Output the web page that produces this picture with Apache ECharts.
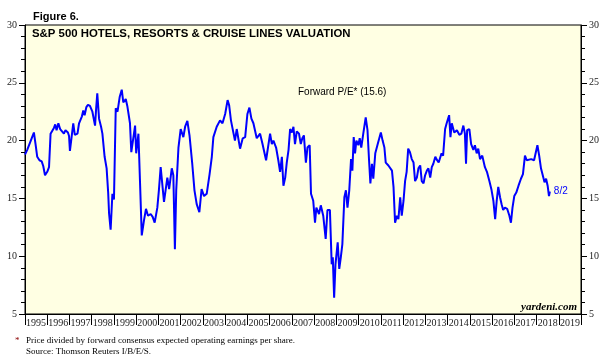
<!DOCTYPE html>
<html><head><meta charset="utf-8">
<script src="https://cdn.jsdelivr.net/npm/echarts@6/dist/echarts.min.js"></script>
<style>html,body{margin:0;padding:0;background:#fff}#c{width:610px;height:362px}</style>
</head><body><div id="c"></div>
<script>
const yearLabels = ['1995','1996','1997','1998','1999','2000','2001','2002','2003','2004','2005','2006','2007','2008','2009','2010','2011','2012','2013','2014','2015','2016','2017','2018','2019'];
const dates = [1995.00,1995.10,1995.20,1995.30,1995.40,1995.48,1995.55,1995.65,1995.75,1995.82,1995.90,1996.00,1996.08,1996.15,1996.22,1996.30,1996.36,1996.42,1996.50,1996.58,1996.66,1996.75,1996.82,1996.93,1996.98,
1997.02,1997.08,1997.17,1997.24,1997.30,1997.36,1997.43,1997.50,1997.56,1997.62,1997.68,1997.76,1997.83,1997.92,1998.03,1998.08,1998.15,1998.20,1998.25,1998.33,1998.42,1998.48,1998.58,1998.67,1998.74,1998.78,1998.85,1998.93,
1999.00,1999.08,1999.16,1999.26,1999.35,1999.42,1999.53,1999.60,1999.72,1999.78,1999.86,1999.95,2000.00,2000.10,2000.17,2000.25,2000.35,2000.44,2000.53,2000.65,2000.74,2000.83,2000.95,
2001.02,2001.10,2001.25,2001.40,2001.48,2001.60,2001.67,2001.74,2001.80,2001.90,2002.00,2002.12,2002.20,2002.30,2002.40,2002.52,2002.62,2002.72,2002.84,2002.94,
2003.05,2003.17,2003.30,2003.40,2003.47,2003.62,2003.77,2003.88,2004.00,2004.11,2004.18,2004.26,2004.33,2004.44,2004.52,2004.60,2004.67,2004.79,2004.90,
2005.00,2005.09,2005.18,2005.27,2005.42,2005.57,2005.68,2005.84,2005.92,2006.02,2006.10,2006.17,2006.29,2006.39,2006.47,2006.55,2006.62,2006.70,2006.77,2006.85,2006.92,
2007.00,2007.07,2007.14,2007.22,2007.32,2007.40,2007.47,2007.54,2007.63,2007.70,2007.80,2007.86,2007.96,2008.04,2008.10,2008.22,2008.30,2008.41,2008.52,2008.60,2008.71,2008.79,2008.84,2008.90,2008.96,
2009.06,2009.13,2009.20,2009.27,2009.36,2009.43,2009.50,2009.58,2009.66,2009.72,2009.78,2009.84,2009.90,2009.99,2010.05,2010.12,2010.21,2010.32,2010.40,2010.47,2010.53,2010.60,2010.66,2010.75,2010.86,2010.93,
2011.00,2011.08,2011.16,2011.22,2011.34,2011.50,2011.57,2011.64,2011.72,2011.79,2011.87,2011.94,2012.02,2012.09,2012.16,2012.23,2012.31,2012.39,2012.47,2012.54,2012.62,2012.69,2012.77,2012.84,2012.92,2012.99,
2013.07,2013.14,2013.22,2013.29,2013.36,2013.45,2013.50,2013.60,2013.73,2013.80,2013.89,2013.96,2014.07,2014.13,2014.19,2014.30,2014.42,2014.53,2014.62,2014.71,2014.78,2014.83,2014.88,2014.98,
2015.06,2015.16,2015.23,2015.31,2015.38,2015.46,2015.56,2015.68,2015.77,2015.88,2015.97,2016.06,2016.14,2016.21,2016.28,2016.36,2016.43,2016.50,2016.58,2016.68,2016.78,2016.85,2016.92,
2017.00,2017.09,2017.19,2017.30,2017.39,2017.48,2017.56,2017.64,2017.76,2017.89,2017.96,2018.04,2018.12,2018.20,2018.28,2018.36,2018.43,2018.50,2018.56,2018.60];
const pe = [18.8,19.2,19.7,20.2,20.7,19.6,18.6,18.3,18.2,17.8,17.0,17.3,17.7,20.6,20.7,21.1,21.4,20.9,21.5,21.0,20.9,20.6,20.9,20.7,20.4,
19.1,19.1,21.5,20.5,20.4,20.6,21.5,21.6,22.1,22.6,22.2,22.9,23.1,23.0,22.5,22.6,21.3,22.8,24.1,21.9,21.2,20.6,18.6,17.6,15.5,13.7,12.3,15.4,
14.9,22.8,22.5,23.8,24.4,23.3,23.6,23.0,21.5,19.0,18.9,21.3,18.9,20.6,16.5,11.8,13.1,14.1,13.5,13.65,13.4,12.9,14.2,
15.7,17.7,14.7,16.8,15.8,17.6,17.0,10.6,15.7,19.4,21.0,20.3,21.2,21.7,20.4,18.0,15.7,14.5,13.8,15.8,
15.2,15.4,17.1,18.6,20.3,21.2,21.75,21.5,22.3,23.5,23.05,21.75,21.7,20.0,21.0,21.0,19.3,20.2,20.3,
22.3,22.85,21.9,21.5,20.2,20.6,19.7,18.3,18.3,20.6,19.7,20.0,19.4,18.3,17.3,18.6,16.1,16.8,18.1,19.2,21.0,
20.7,21.2,19.7,20.8,20.6,19.7,20.2,20.45,18.1,19.4,19.6,15.4,14.8,12.9,14.2,13.65,14.4,13.5,11.5,14.0,14.0,9.3,9.9,6.4,9.3,
11.2,8.9,9.9,11.05,15.1,15.7,14.2,15.7,18.4,17.4,20.3,18.9,20.0,19.6,20.2,19.4,20.6,22.0,20.9,18.3,16.3,18.0,16.7,18.9,19.7,20.2,
20.7,20.0,19.4,18.1,17.85,17.4,16.0,12.9,13.5,13.2,15.1,13.5,14.8,16.5,17.3,19.3,19.0,18.4,18.1,16.5,16.8,17.6,17.85,16.5,16.3,17.0,
17.4,17.6,16.8,17.7,18.0,18.6,18.4,18.1,18.9,18.7,21.0,21.5,22.2,20.3,21.5,20.7,20.9,20.5,20.6,21.3,20.6,18.0,20.9,21.0,
19.7,19.2,19.6,18.9,19.3,18.4,18.7,17.7,17.3,16.5,15.8,14.8,13.2,14.8,16.0,15.1,14.5,14.0,14.2,14.1,13.5,12.9,14.2,
15.2,15.5,16.1,16.7,17.1,18.7,18.3,18.4,18.4,18.3,18.9,19.6,18.7,17.6,17.0,16.4,16.7,16.1,15.2,15.6];
const endTag = '8/2';
const lastPE = pe[pe.length - 1];

const chart = echarts.init(document.getElementById('c'), null, {renderer: 'canvas'});
const serif = 'Liberation Serif, Times New Roman, serif';
const sans = 'Liberation Sans, Arial, sans-serif';
const yAxisBase = {
  type: 'value', min: 5, max: 30, interval: 5,
  axisLine: {show: true, lineStyle: {color: '#000', width: 1}},
  axisTick: {show: true, length: 6, lineStyle: {color: '#000'}},
  minorTick: {show: true, splitNumber: 5, length: 4, lineStyle: {color: '#000'}},
  splitLine: {show: false},
  axisLabel: {margin: 8, fontFamily: serif, fontSize: 10, color: '#222'}
};
chart.setOption({
  animation: false,
  grid: {left: 25, right: 29, top: 25, bottom: 48, show: true, backgroundColor: '#FFFFE3', borderColor: '#000', borderWidth: 1},
  xAxis: [
    {type: 'value', min: 1995, max: 2020, show: false},
    {type: 'category', data: yearLabels, boundaryGap: true, position: 'bottom',
     axisLine: {show: true, lineStyle: {color: '#000'}},
     axisTick: {show: true, interval: 0, length: 11, lineStyle: {color: '#000'}},
     axisLabel: {interval: 0, margin: 4, fontFamily: serif, fontSize: 10, color: '#222'}}
  ],
  yAxis: [Object.assign({position: 'left'}, yAxisBase), Object.assign({position: 'right'}, yAxisBase)],
  series: [{
    type: 'line', xAxisIndex: 0, yAxisIndex: 0,
    data: dates.map((d, i) => [d, pe[i]]),
    showSymbol: false, symbol: 'none',
    lineStyle: {color: '#0000FF', width: 2},
    endLabel: {show: true, formatter: endTag, color: '#0000FF', fontFamily: sans, fontSize: 10, distance: 4}
  }],
  graphic: [
    {type: 'text', left: 33, top: 11, style: {text: 'Figure 6.', font: 'bold 11px ' + sans, fill: '#000'}},
    {type: 'text', left: 32, top: 28, style: {text: 'S&P 500 HOTELS, RESORTS & CRUISE LINES VALUATION', font: 'bold 11.4px ' + sans, fill: '#000'}},
    {type: 'text', left: 298, top: 87, style: {text: 'Forward P/E* (' + lastPE.toFixed(1) + ')', font: '10px ' + sans, fill: '#000'}},
    {type: 'text', right: 33, top: 302, style: {text: 'yardeni.com', font: 'italic bold 11px ' + serif, fill: '#000'}},
    {type: 'text', left: 15, top: 336, style: {text: '*', font: '9px ' + serif, fill: '#8B0000'}},
    {type: 'text', left: 26, top: 336, style: {text: 'Price divided by forward consensus expected operating earnings per share.', font: '9px ' + serif, fill: '#000'}},
    {type: 'text', left: 26, top: 347, style: {text: 'Source: Thomson Reuters I/B/E/S.', font: '9px ' + serif, fill: '#000'}}
  ]
});
</script></body></html>
